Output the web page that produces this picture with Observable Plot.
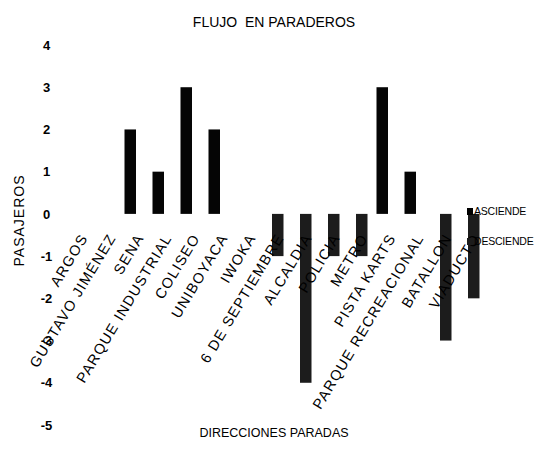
<!DOCTYPE html>
<html>
<head>
<meta charset="utf-8">
<script src="https://cdn.jsdelivr.net/npm/d3@7"></script>
<script src="https://cdn.jsdelivr.net/npm/@observablehq/plot@0.6"></script>
<style>
  html, body { margin: 0; padding: 0; background: #fff; }
  #wrap { position: relative; width: 538px; height: 458px; }
  .lg { position: absolute; font-family: "Liberation Sans", Arial, sans-serif; font-size: 10.5px; color: #000; line-height: 12px; white-space: nowrap; letter-spacing: -0.2px; }
  .lg span.sw { display: inline-block; width: 6px; height: 7px; background: #000; margin-right: 1px; vertical-align: 0px; }
</style>
</head>
<body>
<div id="wrap"></div>
<script>
const categories = ["ARGOS", "GUSTAVO JIMÉNEZ", "SENA", "PARQUE INDUSTRIAL", "COLISEO", "UNIBOYACA", "IWOKA", "6 DE SEPTIEMBRE", "ALCALDIA", "POLICIA", "METRO", "PISTA KARTS", "PARQUE RECREACIONAL", "BATALLON", "VIADUCTO"];
const asciende = [0, 0, 2, 1, 3, 2, 0, 0, 0, 0, 0, 3, 1, 0, 0];
const desciende = [0, 0, 0, 0, 0, 0, 0, -1, -4, -1, -1, 0, 0, -3, -2];
const yTicks = [4, 3, 2, 1, 0, -1, -2, -3, -4, -5];
const seriesNames = ["ASCIENDE", "DESCIENDE"];

const asc = categories.map((c, i) => ({cat: c, v: asciende[i]})).filter(d => d.v !== 0);
const desc = categories.map((c, i) => ({cat: c, v: desciende[i]})).filter(d => d.v !== 0);

const font = '"Liberation Sans", Arial, sans-serif';

const chart = Plot.plot({
  width: 538,
  height: 458,
  marginLeft: 60,
  marginRight: 51,
  marginTop: 45,
  marginBottom: 33,
  style: {fontFamily: font, fontSize: "12px", color: "#000", background: "#fff"},
  x: {type: "band", domain: categories, padding: 0, axis: null},
  y: {domain: [-5, 4], axis: null},
  marks: [
    Plot.axisY(yTicks, {anchor: "left", label: null, tickSize: 0, tickPadding: 14, textAnchor: "middle", tickFormat: d => String(d), fontSize: 13, fontWeight: "bold"}),
    Plot.barY(asc, {x: "cat", y: "v", fill: "#050505", insetLeft: 4.5, insetRight: 12}),
    Plot.barY(desc, {x: "cat", y: "v", fill: "#1c1c1c", insetLeft: 12, insetRight: 4.5}),
    Plot.text(categories, {x: d => d, y: () => 0, text: d => d, rotate: -59, textAnchor: "end", lineAnchor: "top", dy: 18, dx: 1, fontSize: 14.5, fill: "#000", className: "catlab"}),
    Plot.text(["FLUJO\u00A0 EN PARADEROS"], {frameAnchor: "top", dy: -28, fontSize: 14, fill: "#000"}),
    Plot.text(["DIRECCIONES PARADAS"], {frameAnchor: "bottom", dy: 11, fontSize: 12.5, fill: "#000"}),
    Plot.text(["PASAJEROS"], {frameAnchor: "left", rotate: -90, dx: -41, dy: 31, fontSize: 14, fill: "#000"})
  ]
});
const wrap = document.getElementById("wrap");
wrap.appendChild(chart);
d3.select(chart).selectAll("text").filter(function() { return this.textContent === "PASAJEROS"; }).style("letter-spacing", "1px");
d3.select(chart).selectAll("g.catlab text").style("letter-spacing", "1.2px");

const lg1 = document.createElement("div");
lg1.className = "lg";
lg1.style.left = "467px"; lg1.style.top = "205px";
lg1.innerHTML = '<span class="sw"></span>' + seriesNames[0];
wrap.appendChild(lg1);
const lg2 = document.createElement("div");
lg2.className = "lg";
lg2.style.left = "467px"; lg2.style.top = "235px";
lg2.innerHTML = '<span class="sw" style="background:#1c1c1c"></span>' + seriesNames[1];
wrap.appendChild(lg2);
</script>
</body>
</html>
